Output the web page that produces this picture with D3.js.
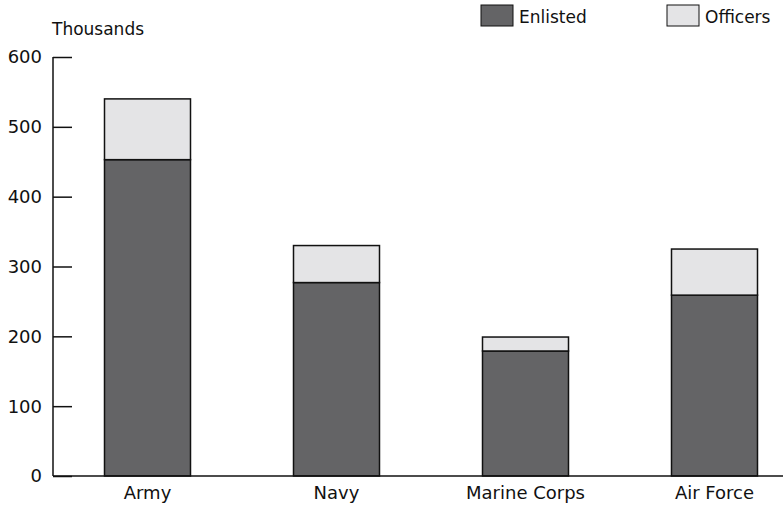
<!DOCTYPE html>
<html>
<head>
<meta charset="utf-8">
<script src="https://cdn.jsdelivr.net/npm/d3@7"></script>
<style>
  body { margin: 0; background: #fff; }
  text { font-family: "DejaVu Sans", sans-serif; fill: #111; }
</style>
</head>
<body>
<svg></svg>
<script>
const width = 783;
const height = 508;

const branches = ["Army", "Navy", "Marine Corps", "Air Force"];
const enlisted = [453, 277, 179, 259];
const officers = [87, 53, 20, 66];
const yTicks = [0, 100, 200, 300, 400, 500, 600];
const seriesNames = ["Enlisted", "Officers"];

const color = d3.scaleOrdinal()
  .domain(seriesNames)
  .range(["#646466", "#e4e4e6"]);

const x = d3.scaleBand()
  .domain(branches)
  .range([53, 809])
  .paddingInner(0.545)
  .paddingOuter(0.2725);

const y = d3.scaleLinear()
  .domain([0, 600])
  .range([476, 57]);

const svg = d3.select("svg")
  .attr("width", width)
  .attr("height", height);

// stacked bars
const rows = branches.map(function (b, i) {
  return {branch: b, Enlisted: enlisted[i], Officers: officers[i]};
});
const stacked = d3.stack().keys(seriesNames)(rows);

svg.selectAll(".layer")
  .data(stacked)
  .enter().append("g")
    .attr("class", "layer")
    .attr("fill", function (d) { return color(d.key); })
  .selectAll("rect")
  .data(function (d) { return d; })
  .enter().append("rect")
    .attr("x", function (d) { return x(d.data.branch); })
    .attr("y", function (d) { return y(d[1]); })
    .attr("width", x.bandwidth())
    .attr("height", function (d) { return y(d[0]) - y(d[1]); })
    .attr("stroke", "#111")
    .attr("stroke-width", 1.5);

// y axis
const yAxis = svg.append("g")
  .attr("transform", "translate(53,0)")
  .call(d3.axisRight(y).tickValues(yTicks).tickSize(19).tickFormat(""));
yAxis.select(".domain").remove();
yAxis.selectAll("line").attr("stroke", "#111").attr("stroke-width", 1.5);

svg.append("line")
  .attr("x1", 53).attr("x2", 53)
  .attr("y1", y(600)).attr("y2", y(0))
  .attr("stroke", "#111").attr("stroke-width", 1.5);

svg.append("line")
  .attr("x1", 53).attr("x2", width)
  .attr("y1", y(0)).attr("y2", y(0))
  .attr("stroke", "#111").attr("stroke-width", 1.5);

svg.selectAll(".ylabel")
  .data(yTicks)
  .enter().append("text")
    .attr("class", "ylabel")
    .attr("x", 42)
    .attr("y", function (d) { return y(d); })
    .attr("dy", "0.36em")
    .attr("text-anchor", "end")
    .style("font-size", "18px")
    .text(function (d) { return d; });

svg.append("text")
  .attr("x", 52)
  .attr("y", 35)
  .style("font-size", "17px")
  .text("Thousands");

// x labels
svg.selectAll(".xlabel")
  .data(branches)
  .enter().append("text")
    .attr("class", "xlabel")
    .attr("x", function (d) { return x(d) + x.bandwidth() / 2; })
    .attr("y", 499)
    .attr("text-anchor", "middle")
    .style("font-size", "18px")
    .text(function (d) { return d; });

// legend
const legendX = [481, 667];
const legend = svg.selectAll(".legend")
  .data(seriesNames)
  .enter().append("g")
    .attr("class", "legend")
    .attr("transform", function (d, i) { return "translate(" + legendX[i] + ",5)"; });

legend.append("rect")
  .attr("width", 32)
  .attr("height", 21)
  .attr("fill", function (d) { return color(d); })
  .attr("stroke", "#111")
  .attr("stroke-width", 1);

legend.append("text")
  .attr("x", 38)
  .attr("y", 18)
  .style("font-size", "17px")
  .text(function (d) { return d; });
</script>
</body>
</html>
